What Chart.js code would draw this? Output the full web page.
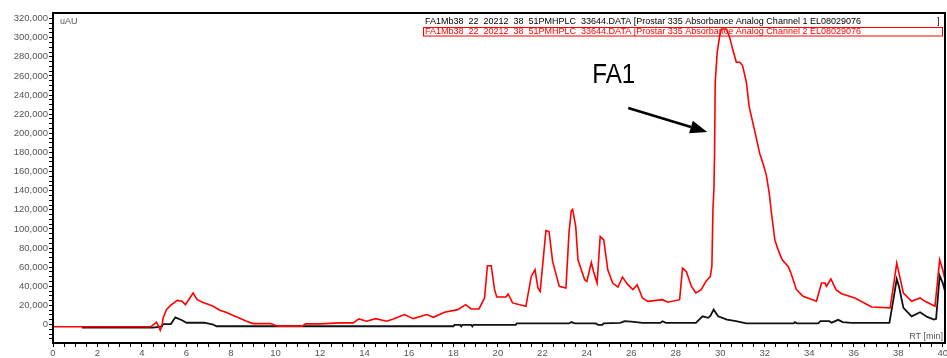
<!DOCTYPE html>
<html>
<head>
<meta charset="utf-8">
<script src="https://cdn.jsdelivr.net/npm/chart.js@4"></script>
<style>
  html, body { margin: 0; padding: 0; background: #fff; }
  canvas { display: block; }
</style>
</head>
<body>
<canvas id="chrom" width="947" height="358"></canvas>
<script>
// Channel 1 (black trace): retention time [min] and absorbance [uAU]
const ch1Times = [1.3, 4.5, 4.9, 4.95, 5.3, 5.5, 5.8, 6.0, 6.8, 7.2, 7.35, 18.0, 18.05, 18.3, 18.35, 18.4, 18.8, 18.85, 18.9,
  20.8, 20.85, 23.2, 23.3, 23.45, 24.4, 24.5, 24.7, 24.75, 25.5, 25.7, 26.0, 26.5, 27.3, 27.4, 27.55, 28.9, 29.2, 29.45,
  29.55, 29.7, 29.9, 30.3, 30.7, 31.17, 33.3, 33.35, 33.45, 34.4, 34.5, 34.9, 35.0, 35.3, 35.5, 35.9, 37.6, 37.78, 37.93,
  38.03, 38.23, 38.6, 38.98, 39.3, 39.6, 39.7, 39.86, 40.0, 40.2];
const ch1Values = [-3300, -3300, -2000, 500, 500, 7500, 4500, 1900, 1900, 0, -1800, -1800, -300, -300, -2000, -300, -300, -2000, -300,
  -300, 1200, 1200, 2600, 1200, 1200, -300, -300, 1200, 1700, 3500, 3000, 1700, 1700, 3500, 1700, 1700, 8600, 7000,
  9000, 15600, 8600, 5200, 3500, 1200, 1200, 2500, 1200, 1200, 3500, 3500, 2000, 4900, 2500, 1700, 1700, 26000, 47600,
  39900, 17400, 8600, 12800, 8000, 5200, 6000, 51000, 43400, 26000];

// Channel 2 (red trace)
const ch2Times = [0.0, 4.4, 4.55, 4.65, 4.75, 4.82, 4.9, 4.95, 5.1, 5.27, 5.45, 5.58, 5.8, 5.95, 6.1, 6.3, 6.48, 6.77, 7.0, 7.2,
  7.5, 7.8, 8.1, 8.4, 8.7, 9.0, 9.78, 10.1, 11.2, 11.35, 12.0, 12.9, 13.5, 13.75, 14.1, 14.5, 15.0, 15.3, 15.8, 16.2,
  16.8, 17.1, 17.6, 18.2, 18.55, 18.8, 19.15, 19.4, 19.53, 19.7, 19.85, 19.95, 20.36, 20.46, 20.66, 21.26, 21.5, 21.67,
  21.8, 21.9, 22.16, 22.3, 22.46, 22.76, 23.06, 23.2, 23.3, 23.36, 23.5, 23.6, 23.9, 24.0, 24.2, 24.3, 24.46, 24.6,
  24.76, 24.94, 25.16, 25.4, 25.6, 25.84, 26.07, 26.26, 26.5, 26.74, 27.4, 27.64, 28.17, 28.3, 28.47, 28.7, 28.9,
  29.14, 29.35, 29.55, 29.62, 29.67, 29.71, 29.74, 29.77, 29.86, 29.97, 30.05, 30.27, 30.42, 30.57, 30.72, 30.87,
  31.0, 31.17, 31.3, 31.54, 31.77, 31.92, 32.07, 32.2, 32.3, 32.45, 32.6, 32.78, 33.05, 33.2, 33.42, 33.72, 34.32,
  34.55, 34.7, 34.77, 34.97, 35.2, 35.45, 36.05, 36.8, 37.63, 37.78, 37.93, 38.03, 38.23, 38.6, 38.98, 39.2, 39.65,
  39.86, 40.0, 40.2];
const ch2Values = [-2300, -2300, 500, 2500, -2000, -6000, -1000, 7000, 15600, 19800, 23000, 25300, 24300, 20800, 26000, 33000, 26000, 22900, 21000, 19100,
  14900, 12500, 9400, 6500, 3500, 1000, 1000, -1700, -1700, 700, 700, 1700, 1700, 5900, 3500, 6200, 3500, 5900, 10400, 6200,
  10400, 7600, 12800, 15600, 20800, 16300, 16300, 27800, 61500, 61500, 36500, 28800, 28800, 32000, 22600, 19100, 50300, 57300,
  38200, 34700, 98200, 97200, 66000, 39900, 38200, 97200, 119100, 120500, 102400, 67700, 46900, 45100, 64900, 55500, 43400, 92000,
  88500, 57300, 43400, 39200, 49700, 41700, 36500, 41700, 27800, 24300, 26000, 23300, 26000, 59000, 55500, 39900, 33000,
  36500, 45100, 50300, 60700, 121500, 140600, 177000, 253400, 284700, 302000, 309000, 309000, 300300, 286500, 274300, 274300,
  270800, 253400, 227400, 203100, 178900, 168400, 156000, 137200, 116400, 88500, 78100, 67700, 60700, 52100, 36500, 29500, 24300,
  43400, 43400, 39900, 47600, 36500, 32300, 27800, 18400, 17400, 39900, 64200, 53800, 33000, 24300, 27800, 24300, 19100,
  67700, 57300, 36500];

// Labelled axis ticks
const xTickLabels = [0, 2, 4, 6, 8, 10, 12, 14, 16, 18, 20, 22, 24, 26, 28, 30, 32, 34, 36, 38, 40];
const yTickLabels = [0, 20000, 40000, 60000, 80000, 100000, 120000, 140000, 160000, 180000, 200000,
  220000, 240000, 260000, 280000, 300000, 320000];

// Header text of the two channels
const headerCh1 = 'FA1Mb38  22  20212  38  51PMHPLC  33644.DATA [Prostar 335 Absorbance Analog Channel 1 EL08029076';
const headerCh2 = 'FA1Mb38  22  20212  38  51PMHPLC  33644.DATA [Prostar 335 Absorbance Analog Channel 2 EL08029076';
const yUnitText = 'uAU';
const xUnitText = 'RT [min]';

// Peak annotation, in axis units (RT, uAU)
const peakName = 'FA1';
const peakNameAt = { rt: 24.24, abs: 252600 };
const peakArrowFrom = { rt: 25.86, abs: 226400 };
const peakArrowTo = { rt: 29.41, abs: 201400 };

const FONT = "'Liberation Sans', Arial, sans-serif";

const xMinorTicks = [];
for (let v = 0; v <= 40; v += 0.5) xMinorTicks.push(v);
const yMinorTicks = [];
for (let v = -15000; v <= 320000; v += 5000) yMinorTicks.push(v);

const toPoints = (ts, vs) => ts.map((t, i) => ({ x: t, y: vs[i] }));

const frameAndNotes = {
  id: 'frameAndNotes',
  afterDraw(chart) {
    const { ctx, chartArea: a, scales } = chart;
    const xs = scales.x, ys = scales.y;
    ctx.save();

    // plot frame
    ctx.strokeStyle = '#000';
    ctx.lineWidth = 2;
    ctx.strokeRect(a.left, a.top, a.right - a.left, a.bottom - a.top);

    // header lines
    ctx.font = '9px ' + FONT;
    ctx.textBaseline = 'alphabetic';
    ctx.textAlign = 'left';
    ctx.fillStyle = '#000';
    ctx.fillText(headerCh1, a.left + 372, a.top + 11, 487);
    ctx.fillText(']', a.right - 8, a.top + 11);
    ctx.fillStyle = '#ff0000';
    ctx.fillText(headerCh2, a.left + 372, a.top + 21, 487);
    ctx.strokeStyle = '#ff0000';
    ctx.lineWidth = 1;
    ctx.strokeRect(a.left + 370.5, a.top + 14.5, 519, 8.5);

    // unit labels
    ctx.fillStyle = '#555';
    ctx.font = '9px ' + FONT;
    ctx.fillText(yUnitText, a.left + 7, a.top + 11);
    ctx.textAlign = 'right';
    ctx.fillText(xUnitText, a.right - 2, a.bottom - 4);

    // peak label and arrow
    ctx.fillStyle = '#000';
    ctx.textAlign = 'left';
    ctx.font = '27px ' + FONT;
    ctx.fillText(peakName, xs.getPixelForValue(peakNameAt.rt), ys.getPixelForValue(peakNameAt.abs), 43);

    const x1 = xs.getPixelForValue(peakArrowFrom.rt), y1 = ys.getPixelForValue(peakArrowFrom.abs);
    const x2 = xs.getPixelForValue(peakArrowTo.rt), y2 = ys.getPixelForValue(peakArrowTo.abs);
    const ang = Math.atan2(y2 - y1, x2 - x1);
    const headLen = 17, headHalf = 6.5;
    const bx = x2 - headLen * Math.cos(ang), by = y2 - headLen * Math.sin(ang);
    ctx.strokeStyle = '#000';
    ctx.lineWidth = 2.5;
    ctx.beginPath();
    ctx.moveTo(x1, y1);
    ctx.lineTo(bx, by);
    ctx.stroke();
    ctx.beginPath();
    ctx.moveTo(x2, y2);
    ctx.lineTo(bx + headHalf * Math.sin(ang), by - headHalf * Math.cos(ang));
    ctx.lineTo(bx - headHalf * Math.sin(ang), by + headHalf * Math.cos(ang));
    ctx.closePath();
    ctx.fill();
    ctx.restore();
  }
};

new Chart(document.getElementById('chrom'), {
  type: 'line',
  data: {
    datasets: [
      {
        label: 'Channel 2',
        data: toPoints(ch2Times, ch2Values),
        borderColor: '#ff0000',
        borderWidth: 1.6,
        pointRadius: 0,
        tension: 0,
        fill: false
      },
      {
        label: 'Channel 1',
        data: toPoints(ch1Times, ch1Values),
        borderColor: '#111',
        borderWidth: 1.8,
        pointRadius: 0,
        tension: 0,
        fill: false
      }
    ]
  },
  options: {
    responsive: false,
    animation: false,
    devicePixelRatio: 1,
    layout: { padding: { top: 13, right: 2, left: 0, bottom: 0 } },
    plugins: { legend: { display: false }, tooltip: { enabled: false } },
    scales: {
      x: {
        type: 'linear',
        min: 0,
        max: 40.1,
        afterBuildTicks: s => { s.ticks = xMinorTicks.map(v => ({ value: v })); },
        afterFit: s => { s.height = 15; s.paddingLeft = 0; s.paddingRight = 0; },
        ticks: {
          autoSkip: false,
          maxRotation: 0,
          padding: 1,
          color: '#555',
          font: { family: FONT, size: 9.5 },
          callback: v => (xTickLabels.includes(v) ? String(v) : '')
        },
        grid: { display: true, drawOnChartArea: false, drawTicks: true, tickLength: 4, color: '#000', lineWidth: 1 },
        border: { display: true, color: '#000', width: 2 }
      },
      y: {
        type: 'linear',
        min: -19300,
        max: 325800,
        afterBuildTicks: s => { s.ticks = yMinorTicks.map(v => ({ value: v })); },
        afterFit: s => { s.width = 53; s.paddingTop = 0; s.paddingBottom = 0; },
        ticks: {
          autoSkip: false,
          padding: 1,
          color: '#555',
          font: { family: FONT, size: 9.5 },
          callback: v => (yTickLabels.includes(v) ? v.toLocaleString('en-US') : '')
        },
        grid: { display: true, drawOnChartArea: false, drawTicks: true, tickLength: 4, color: '#000', lineWidth: 1 },
        border: { display: true, color: '#000', width: 2 }
      }
    }
  },
  plugins: [frameAndNotes]
});
</script>
</body>
</html>
